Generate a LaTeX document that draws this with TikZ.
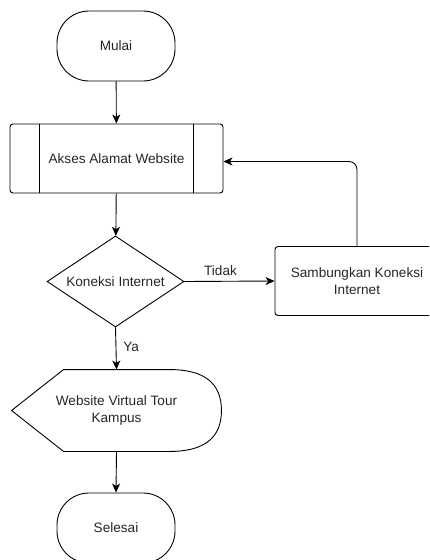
\documentclass[tikz,border=0pt]{standalone}
\usepackage{fontspec}
\setmainfont{Liberation Sans}
\usetikzlibrary{shapes.geometric,arrows.meta,calc}
\begin{document}
\begin{tikzpicture}[x=1pt,y=-1pt,
  line width=0.9pt,
  every node/.style={font=\fontsize{13.6}{16.5}\selectfont, text=black!85},
  terminal/.style={draw, rounded corners=32pt, minimum width=118pt, minimum height=70pt},
  procbox/.style={draw, rounded corners=3pt, minimum width=213pt, minimum height=69pt},
  plainbox/.style={draw, rounded corners=3pt, minimum width=164pt, minimum height=69pt, align=center},
  decision/.style={draw, diamond, shape aspect=1.5, inner sep=0pt, minimum width=137pt, minimum height=91pt},
  displaybox/.style={minimum width=209pt, minimum height=81pt, align=center},
  flow/.style={-{Stealth[length=9pt,width=8pt,inset=2.5pt]}},
  lbl/.style={inner sep=1pt}]
  \useasboundingbox (0,0) rectangle (429,560);
  \clip (0,0) rectangle (429,560);

  % nodes
  \node[terminal] (mulai) at (116,46) {Mulai};
  \node[procbox] (akses) at (116.5,158.5) {Akses Alamat Website};
  \draw ([xshift=30pt]akses.north west) -- ([xshift=30pt]akses.south west)
        ([xshift=-30pt]akses.north east) -- ([xshift=-30pt]akses.south east);
  \node[decision] (cek) at (115.5,281.5) {Koneksi Internet};
  \node[plainbox] (samb) at (357,281) {Sambungkan Koneksi\\Internet};
  \node[displaybox] (web) at (116.5,410.5) {Website Virtual Tour\\Kampus};
  \draw (web.west)
     -- ([xshift=52pt]web.north west)
     -- ([xshift=-52pt]web.north east)
     .. controls ([xshift=-17pt]web.north east) and ([yshift=-13.7pt]web.north east) .. (web.east)
     .. controls ([yshift=13.7pt]web.south east) and ([xshift=-17pt]web.south east) .. ([xshift=-52pt]web.south east)
     -- ([xshift=52pt]web.south west) -- cycle;
  \node[terminal] (selesai) at (116,528) {Selesai};

  % connectors
  \draw[flow] (mulai) -- (akses);
  \draw[flow] (akses) -- (cek);
  \draw[flow] (cek.east) -- node[lbl, above=4pt, pos=0.4] {Tidak} (samb.west);
  \draw[flow, rounded corners=8pt] (samb.north) |- ([yshift=-3pt]akses.east);
  \draw[flow] (cek.south) -- node[lbl, right=6pt, pos=0.45] {Ya} (web.north);
  \draw[flow] (web.south) -- (selesai.north);
\end{tikzpicture}
\end{document}
